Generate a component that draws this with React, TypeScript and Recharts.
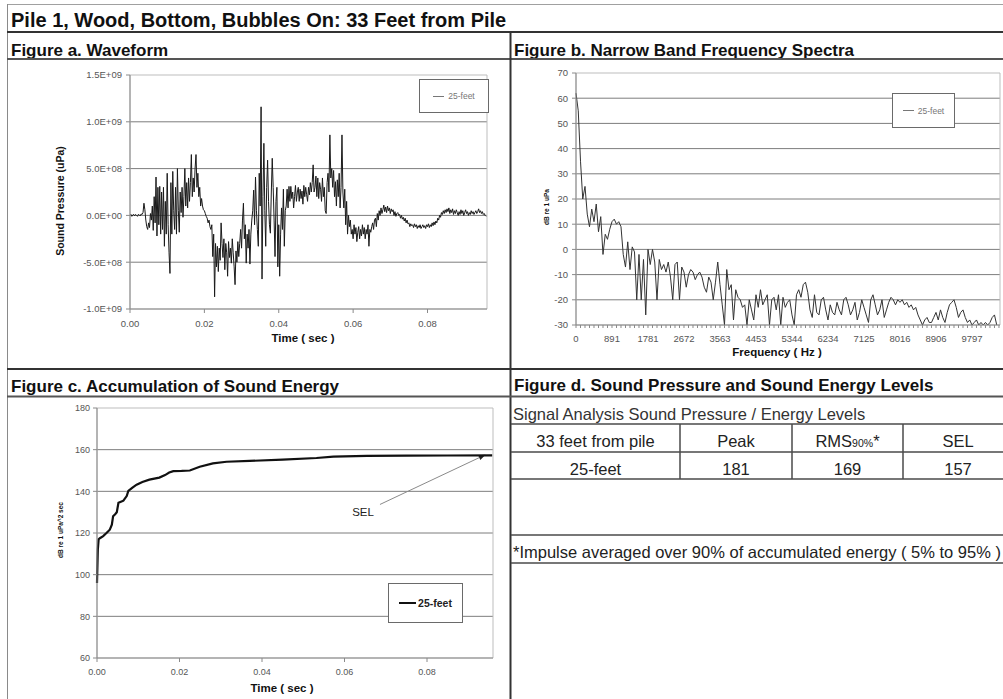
import React from "react";
import {
  LineChart,
  Line,
  XAxis,
  YAxis,
  CartesianGrid,
  Legend,
  ReferenceArea,
  ReferenceLine,
  ReferenceDot,
} from "recharts";

const FONT = '"Liberation Sans", Arial, Helvetica, sans-serif';

// ---- Figure a: waveform. Pressure in units of 1E+08 uPa, one sample per 0.25 ms
const WAVE_STEP_SEC = 0.00025;
const WAVE_PRESSURE_1E8 = [
  0, 0.1, -0.1, 0.05, 0.1, -0.05, 0.1, 0, -0.1, 0.1, 0.05, -0.05, 0.15, 0.1, 0.3, 1.3, 0.6, -0.5, -1.2, -1.5,
  -0.8, -1.3, 0.2, -0.5, 1.0, -1.6, 2.0, -0.8, 4.1, -2.2, 3.0, -1.0, 3.1, -2.0, 2.5, -1.5, 3.0, -3.3, 1.5, -2.0,
  4.5, -1.0, -4.0, -6.2, 3.5, -2.0, 4.7, 0.5, -1.5, 3.0, -2.0, 5.0, 0.5, -1.8, 2.5, 0.3, 3.0, -0.2, 2.0, 5.0,
  1.0, 3.5, 0.8, 4.0, 1.5, 3.5, 6.5, 2.0, 4.0, 2.5, 5.0, 6.5, 3.0, 4.5, 2.0, 3.0, 1.0, 1.8, 1.0, 0.6,
  0.5, 0.2, -0.1, -0.3, -0.8, -0.5, -1.2, -1.5, -1.0, -4.4, -2.0, -8.7, -3.0, -5.5, -3.3, -6.0, -3.5, -4.8, -0.8, -3.0,
  -4.5, -2.5, -5.8, -3.0, -4.0, -6.5, -2.8, -4.5, -3.5, -5.1, -2.5, -4.0, -5.5, -7.4, -3.8, -5.0, -2.8, -4.4, -3.0, -1.5,
  -3.5, -0.5, 1.3, -2.5, -1.0, -5.1, -2.0, -3.5, -1.5, -5.2, -2.0, -0.5, 0.5, 2.7, -1.0, 4.1, 0.5, -1.5, -3.3, 4.5,
  1.0, 11.6, -6.8, 2.0, 7.7, 0.5, -3.3, 3.0, 5.9, 1.5, -1.0, -1.9, 2.5, 6.1, 3.0, -0.5, -4.4, 1.5, 3.0, -5.5,
  -1.0, -6.5, -2.0, 0.8, -1.5, 2.8, -3.3, 0.5, 1.0, 2.8, 0.8, 3.1, 1.5, 3.1, 1.8, 2.5, 0.8, 2.0, 3.2, 1.5,
  2.5, 3.0, 1.5, 2.8, 1.8, 2.6, 1.2, 3.2, 2.0, 3.0, 2.2, 1.5, 3.0, 2.2, 3.5, 2.5, 3.5, 5.4, 2.5, 3.0,
  4.2, 2.0, 4.0, 1.8, 3.5, 2.8, 1.5, 4.0, 2.0, 3.0, 0.5, 0.2, 3.5, 4.5, 2.5, 8.6, 4.0, 5.0, 3.0, 4.8,
  2.0, 3.6, 1.0, 3.8, 2.0, 4.5, 0.8, 3.0, 8.6, 2.5, 0.8, 2.8, -1.0, 1.5, -2.0, 0.0, -1.2, -0.5, -2.0, -1.5,
  -2.5, -1.0, -2.0, -1.3, -2.8, -1.8, -1.2, -2.5, -1.5, -2.2, -1.0, -2.0, -1.3, -2.5, -1.5, -2.0, -1.0, -3.3, -1.5, -1.8,
  -1.2, -0.8, -1.5, -0.5, -0.3, -1.2, 0.2, -0.5, 0.5, 0.0, 0.8, 0.2, 0.6, 1.1, 0.4, 0.9, 0.3, 1.0, 0.5, 0.8,
  0.2, 0.7, 0.4, 0.6, 0.0, 0.4, -0.1, 0.2, 0.3, 0.0, 0.1, -0.3, 0.0, -0.4, -0.2, -0.6, -0.3, -0.8, -0.5, -0.9,
  -0.8, -1.2, -0.9, -1.1, -1.0, -1.3, -0.9, -1.2, -1.0, -1.4, -1.1, -1.3, -1.0, -1.4, -1.2, -1.0, -1.3, -1.1, -1.4, -1.0,
  -1.2, -0.9, -1.3, -1.0, -1.2, -0.8, -1.1, -0.7, -1.0, -0.6, -0.8, -0.3, -0.5, 0.0, -0.2, 0.3, 0.1, 0.5, 0.2, 0.6,
  0.3, 0.7, 0.4, 0.8, 0.2, 0.6, 0.3, 0.7, 0.1, 0.5, 0.2, 0.6, 0.3, 0.0, 0.4, 0.1, 0.6, 0.2, 0.5, 0.0,
  0.3, 0.6, 0.2, 0.4, 0.0, 0.3, 0.1, 0.5, 0.2, 0.4, 0.1, 0.3, 0.5, 0.2, 0.4, 0.7, 0.3, 0.5, 0.2, 0.4,
  0.1, 0.2, 0.0, -0.1,
];
const WAVE_Y_TICKS = [-1e9, -5e8, 0, 5e8, 1e9, 1.5e9];
const TIME_TICKS = [0, 0.02, 0.04, 0.06, 0.08];
const TIME_MAX = 0.096;

// ---- Figure b: narrow band spectrum, dB re 1 uPa
const SPEC_STEP_HZ = 55.6640625;
const SPEC_DB = [
  62, 55, 35, 20, 25, 14, 9, 16, 11, 18,
  7, 13, -2, 6, 4, 8, 11, 12, 10, 11,
  9, -2, -7, 3, -8, 1, -1, -20, -2, -20,
  -4, -26, 0, -6, 0, -5, -20, -4, -8, -6,
  -9, -5, -11, -20, -6, -5, -20, -7, -9, -15,
  -10, -8, -9, -12, -10, -9, -11, -15, -17, -11,
  -13, -20, -13, -5, -14, -22, -30, -8, -16, -14,
  -28, -16, -19, -20, -23, -22, -30, -20, -24, -28,
  -18, -23, -16, -22, -20, -18, -30, -20, -19, -24,
  -18, -30, -19, -23, -21, -20, -26, -30, -18, -16,
  -19, -14, -13, -17, -24, -27, -18, -25, -26, -20,
  -19, -24, -28, -22, -25, -26, -21, -24, -26, -20,
  -19, -22, -26, -24, -21, -28, -25, -20, -23, -26,
  -29, -20, -18, -22, -26, -24, -20, -27, -24, -21,
  -19, -20, -22, -20, -21, -20, -22, -21, -23, -22,
  -24, -23, -26, -28, -30, -28, -27, -29, -29, -27,
  -25, -28, -24, -27, -29, -25, -22, -21, -20, -23,
  -27, -25, -24, -27, -29, -28, -30, -29, -28, -30,
  -29, -30, -29, -30, -29, -27, -26, -30,
];
const FREQ_LABEL_TICKS = [
  0, 890.625, 1781.25, 2671.875, 3562.5, 4453.125, 5343.75, 6234.375, 7125, 8015.625, 8906.25, 9796.875,
];
const FREQ_MINOR_PER_LABEL = 8;
const FREQ_MAX = 10490;
const SPEC_Y_TICKS = [-30, -20, -10, 0, 10, 20, 30, 40, 50, 60, 70];

// ---- Figure c: accumulated sound energy
const SEL_TIME = [
  0, 0.0002, 0.0004, 0.0007, 0.0015, 0.0023, 0.0031, 0.0036, 0.0039, 0.0044,
  0.0048, 0.0052, 0.0058, 0.0064, 0.0072, 0.0076, 0.0086, 0.0096, 0.011, 0.0127,
  0.0151, 0.0165, 0.0175, 0.0185, 0.0205, 0.0225, 0.0249, 0.0281, 0.0314, 0.037,
  0.045, 0.0532, 0.0573, 0.0654, 0.075, 0.085, 0.0958,
];
const SEL_DB = [
  96, 112, 117, 117.5, 118.5, 120, 121.6, 124, 128, 129,
  130, 134.5, 135, 135.5, 137.7, 140.2, 141.8, 143.2, 144.5, 145.6,
  146.6, 147.8, 149, 149.7, 149.8, 150, 151.8, 153.4, 154.2, 154.6,
  155.2, 156, 156.7, 157, 157.1, 157.2, 157.3,
];
const SEL_Y_TICKS = [60, 80, 100, 120, 140, 160, 180];
const SEL_ARROW = [
  { x: 0.0686, y: 133.7 },
  { x: 0.0942, y: 157.6 },
];
const SEL_TEXT_AT = { x: 0.0645, y: 130 };

// ---- Figure d: table
const TABLE_HEAD = ["33 feet from pile", "Peak", "RMS", "SEL"];
const TABLE_ROW = ["25-feet", "181", "169", "157"];

const SERIES = "25-feet";

const waveData = WAVE_PRESSURE_1E8.map((v, i) => ({ t: i * WAVE_STEP_SEC, p: v * 1e8 }));
const specData = SPEC_DB.map((v, i) => ({ f: i * SPEC_STEP_HZ, db: v }));
const selData = SEL_TIME.map((t, i) => ({ t, db: SEL_DB[i] }));

const freqTicks: number[] = [];
for (let k = 0; k * (FREQ_LABEL_TICKS[1] / FREQ_MINOR_PER_LABEL) <= FREQ_MAX; k++) {
  freqTicks.push((k * FREQ_LABEL_TICKS[1]) / FREQ_MINOR_PER_LABEL);
}

function sci(v: number) {
  const [m, e] = v.toExponential(1).split("e");
  return `${m}E${e[0]}${e.slice(1).padStart(2, "0")}`;
}

const TICK = { fontSize: 9.5, fill: "#555", fontFamily: FONT };
const AXIS_LINE = { stroke: "#8a8a8a" };
const GRID = "#7d7d7d";

// recharts overwrites x / y on cloned labels, so the position comes in as ax / ay
function AxisTitle({ ax, ay, rotate, size, text }: any) {
  return (
    <text
      x={ax}
      y={ay}
      transform={rotate ? `rotate(-90, ${ax}, ${ay})` : undefined}
      textAnchor="middle"
      dominantBaseline={rotate ? "central" : "alphabetic"}
      fontSize={size}
      fontWeight="bold"
      fill="#111"
      fontFamily={FONT}
    >
      {text}
    </text>
  );
}

function legendBox(thick: boolean) {
  return (props: any) => {
    const items = props.payload || [];
    return (
      <div
        style={{
          width: "100%",
          height: "100%",
          border: "1px solid #6a6a6a",
          background: "#fff",
          boxSizing: "border-box",
          display: "flex",
          alignItems: "center",
          justifyContent: "center",
          fontFamily: FONT,
        }}
      >
        {items.map((item: any) => (
          <div key={item.value} style={{ display: "flex", alignItems: "center", gap: thick ? 2 : 4 }}>
            <span
              style={{
                display: "inline-block",
                width: thick ? 17 : 11,
                borderTop: `${thick ? 2.5 : 1}px solid ${thick ? "#111" : "#777"}`,
              }}
            />
            <span
              style={{
                fontSize: thick ? 10.5 : 8.5,
                fontWeight: thick ? "bold" : "normal",
                color: thick ? "#222" : "#777",
              }}
            >
              {item.value}
            </span>
          </div>
        ))}
      </div>
    );
  };
}

function SelArrow(props: any) {
  const { x1, y1, x2, y2 } = props;
  const ang = Math.atan2(y2 - y1, x2 - x1);
  const len = 7;
  const half = 2.6;
  const bx = x2 - len * Math.cos(ang);
  const by = y2 - len * Math.sin(ang);
  const px = -Math.sin(ang) * half;
  const py = Math.cos(ang) * half;
  return (
    <g>
      <line x1={x1} y1={y1} x2={bx} y2={by} stroke="#8a8a8a" strokeWidth={1} />
      <polygon points={`${x2},${y2} ${bx + px},${by + py} ${bx - px},${by - py}`} fill="#222" />
    </g>
  );
}

function WaveformChart() {
  return (
    <LineChart width={505} height={309} data={waveData} margin={{ top: 15, right: 18, bottom: 2, left: 70 }}>
      <ReferenceArea x1={0} x2={TIME_MAX} y1={-1e9} y2={1.5e9} fill="none" stroke="#bdbdbd" />
      <CartesianGrid vertical={false} stroke={GRID} horizontalValues={[-5e8, 0, 5e8, 1e9]} />
      <XAxis
        dataKey="t"
        type="number"
        domain={[0, TIME_MAX]}
        ticks={TIME_TICKS}
        interval={0}
        tickFormatter={(v: number) => v.toFixed(2)}
        height={58}
        tick={TICK}
        tickSize={4}
        tickMargin={7}
        axisLine={AXIS_LINE}
        tickLine={AXIS_LINE}
        label={<AxisTitle ax={303} ay={282} size={11.5} text="Time ( sec )" />}
      />
      <YAxis
        type="number"
        domain={[-1e9, 1.5e9]}
        ticks={WAVE_Y_TICKS}
        interval={0}
        tickFormatter={sci}
        width={60}
        tick={TICK}
        tickSize={4}
        tickMargin={4}
        axisLine={AXIS_LINE}
        tickLine={AXIS_LINE}
        label={<AxisTitle ax={60} ay={141} rotate size={10.5} text="Sound Pressure (uPa)" />}
      />
      <Legend
        layout="horizontal"
        verticalAlign="middle"
        align="center"
        wrapperStyle={{ left: 419, top: 19, width: 70, height: 34 }}
        content={legendBox(false)}
      />
      <Line
        name={SERIES}
        dataKey="p"
        type="linear"
        stroke="#1a1a1a"
        strokeWidth={1}
        dot={false}
        isAnimationActive={false}
      />
    </LineChart>
  );
}

function SpectrumChart() {
  return (
    <LineChart width={492} height={309} data={specData} margin={{ top: 13, right: 3, bottom: 0, left: 25 }}>
      <ReferenceArea x1={0} x2={FREQ_MAX} y1={-30} y2={70} fill="none" stroke="#bdbdbd" />
      <CartesianGrid vertical={false} stroke={GRID} horizontalValues={[-20, -10, 0, 10, 20, 30, 40, 50, 60]} />
      <XAxis
        dataKey="f"
        type="number"
        domain={[0, FREQ_MAX]}
        ticks={freqTicks}
        interval={0}
        tickFormatter={(v: number, i: number) => (i % FREQ_MINOR_PER_LABEL === 0 ? String(Math.round(v)) : "")}
        height={44}
        tick={TICK}
        tickSize={3}
        tickMargin={7}
        axisLine={AXIS_LINE}
        tickLine={AXIS_LINE}
        label={<AxisTitle ax={266} ay={296} size={11.5} text="Frequency ( Hz )" />}
      />
      <YAxis
        type="number"
        domain={[-30, 70]}
        ticks={SPEC_Y_TICKS}
        interval={0}
        width={40}
        tick={TICK}
        tickSize={4}
        tickMargin={4}
        axisLine={AXIS_LINE}
        tickLine={AXIS_LINE}
        label={<AxisTitle ax={35} ay={147} rotate size={6.5} text="dB re 1 uPa" />}
      />
      <Legend
        layout="horizontal"
        verticalAlign="middle"
        align="center"
        wrapperStyle={{ left: 381, top: 33, width: 63, height: 35 }}
        content={legendBox(false)}
      />
      <Line
        name={SERIES}
        dataKey="db"
        type="linear"
        stroke="#333"
        strokeWidth={1}
        dot={false}
        isAnimationActive={false}
      />
    </LineChart>
  );
}

function EnergyChart() {
  return (
    <LineChart width={505} height={301} data={selData} margin={{ top: 10, right: 12, bottom: 0, left: 37 }}>
      <ReferenceArea x1={0} x2={TIME_MAX} y1={60} y2={180} fill="none" stroke="#bdbdbd" />
      <CartesianGrid vertical={false} stroke={GRID} horizontalValues={[80, 100, 120, 140, 160]} />
      <XAxis
        dataKey="t"
        type="number"
        domain={[0, TIME_MAX]}
        ticks={TIME_TICKS}
        interval={0}
        tickFormatter={(v: number) => v.toFixed(2)}
        height={41}
        tick={{ ...TICK, fontSize: 9 }}
        tickSize={4}
        tickMargin={7}
        axisLine={AXIS_LINE}
        tickLine={AXIS_LINE}
        label={<AxisTitle ax={282} ay={294} size={11.5} text="Time ( sec )" />}
      />
      <YAxis
        type="number"
        domain={[60, 180]}
        ticks={SEL_Y_TICKS}
        interval={0}
        width={60}
        tick={{ ...TICK, fontSize: 9 }}
        tickSize={4}
        tickMargin={3}
        axisLine={AXIS_LINE}
        tickLine={AXIS_LINE}
        label={<AxisTitle ax={60} ay={132} rotate size={6.5} text="dB re 1 uPa^2 sec" />}
      />
      <ReferenceLine segment={SEL_ARROW} shape={SelArrow} ifOverflow="visible" />
      <ReferenceDot
        x={SEL_TEXT_AT.x}
        y={SEL_TEXT_AT.y}
        r={0}
        fill="none"
        stroke="none"
        label={{ value: "SEL", position: "center", fontSize: 11.5, fill: "#222", fontFamily: FONT }}
      />
      <Legend
        layout="horizontal"
        verticalAlign="middle"
        align="center"
        wrapperStyle={{ left: 388, top: 185, width: 75, height: 40 }}
        content={legendBox(true)}
      />
      <Line
        name={SERIES}
        dataKey="db"
        type="linear"
        stroke="#111"
        strokeWidth={2.2}
        dot={false}
        isAnimationActive={false}
      />
    </LineChart>
  );
}

function Frame() {
  const head = { fontSize: 17, fontWeight: "bold" as const, fill: "#111" };
  const cell = { fontSize: 16.5, fill: "#222", textAnchor: "middle" as const };
  const rule = { stroke: "#4a4a4a", strokeWidth: 1.5 };
  const colX = [595.5, 736, 847.5, 958];
  return (
    <svg width={1003} height={699} style={{ position: "absolute", left: 0, top: 0 }} fontFamily={FONT}>
      <rect x={0} y={0} width={1003} height={699} fill="#fff" />
      <line x1={7} y1={4.5} x2={1003} y2={4.5} stroke="#a0a0a0" />
      <line x1={7.5} y1={4} x2={7.5} y2={699} stroke="#8a8a8a" />
      <text x={11} y={27} fontSize={20} fontWeight="bold" fill="#111">
        Pile 1, Wood, Bottom, Bubbles On: 33 Feet from Pile
      </text>
      <line x1={7} y1={32} x2={1003} y2={32} stroke="#333" strokeWidth={2} />
      <text x={11} y={56} {...head}>Figure a. Waveform</text>
      <text x={514} y={56} {...head}>Figure b. Narrow Band Frequency Spectra</text>
      <line x1={7} y1={59} x2={1003} y2={59} stroke="#555" strokeWidth={2} />
      <line x1={510.5} y1={32} x2={510.5} y2={699} stroke="#333" strokeWidth={2} />
      <line x1={7} y1={369} x2={1003} y2={369} stroke="#333" strokeWidth={2} />
      <text x={11} y={392} {...head}>Figure c. Accumulation of Sound Energy</text>
      <text x={514} y={391} {...head}>Figure d. Sound Pressure and Sound Energy Levels</text>
      <line x1={7} y1={396.5} x2={1003} y2={396.5} stroke="#555" strokeWidth={2} />

      <text x={513} y={420} fontSize={16.5} fill="#333">
        Signal Analysis Sound Pressure / Energy Levels
      </text>
      {[424, 452, 479, 535, 563].map((y) => (
        <line key={y} x1={511} y1={y} x2={1003} y2={y} {...rule} />
      ))}
      {[680, 792, 903].map((x) => (
        <line key={x} x1={x} y1={424} x2={x} y2={479} {...rule} />
      ))}
      {TABLE_HEAD.map((h, i) => (
        <text key={h} x={colX[i]} y={447} {...cell}>
          {h}
          {h === "RMS" ? <tspan fontSize={10.5}>90%</tspan> : null}
          {h === "RMS" ? "*" : null}
        </text>
      ))}
      {TABLE_ROW.map((v, i) => (
        <text key={i} x={colX[i]} y={475} {...cell}>
          {v}
        </text>
      ))}
      <text x={513} y={558} fontSize={16.5} fill="#222">
        *Impulse averaged over 90% of accumulated energy ( 5% to 95% )
      </text>
    </svg>
  );
}

export default function App() {
  return (
    <div
      style={{
        position: "absolute",
        left: 0,
        top: 0,
        width: 1003,
        height: 699,
        overflow: "hidden",
        background: "#fff",
        fontFamily: FONT,
      }}
    >
      <Frame />
      <div style={{ position: "absolute", left: 0, top: 60 }}>
        <WaveformChart />
      </div>
      <div style={{ position: "absolute", left: 511, top: 60 }}>
        <SpectrumChart />
      </div>
      <div style={{ position: "absolute", left: 0, top: 398 }}>
        <EnergyChart />
      </div>
    </div>
  );
}
